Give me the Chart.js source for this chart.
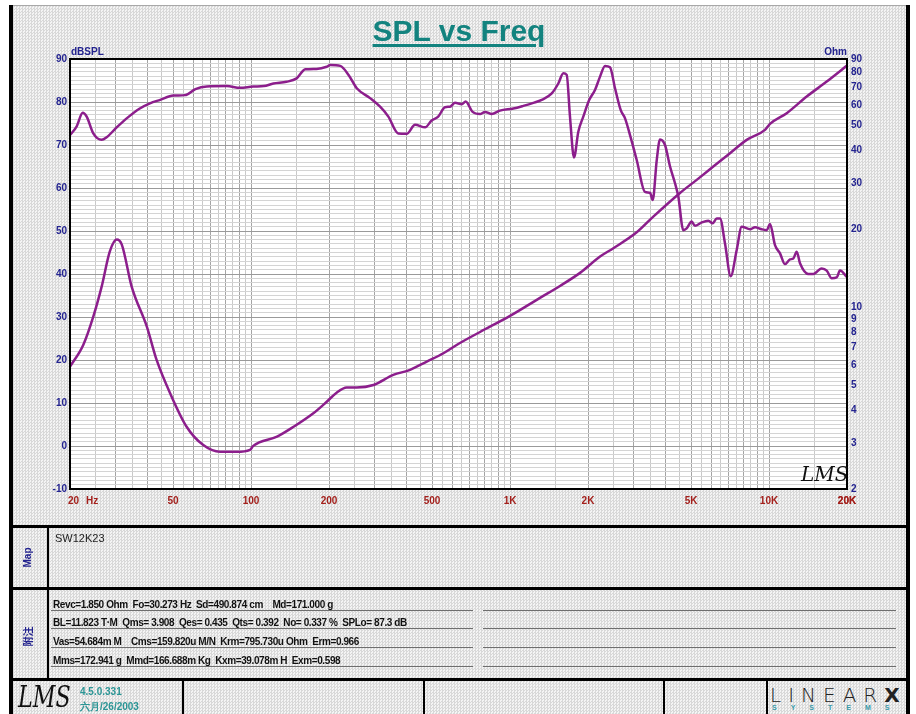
<!DOCTYPE html>
<html>
<head>
<meta charset="utf-8">
<script src="https://cdn.jsdelivr.net/npm/chart.js@4.4.0/dist/chart.umd.min.js"></script>
<style>
    body { margin: 0; width: 916px; height: 714px; overflow: hidden; background: #fff; position: relative;
           font-family: "Liberation Sans", Arial, sans-serif; }
    .abs { position: absolute; }
    .sheet { left: 9px; top: 5px; width: 901px; height: 709px; border-top: 1px solid #a8a8a8;
             background-color: #e8e8e8;
             background-image: repeating-conic-gradient(#d8d8d8 0 25%, #f4f4f4 0 50%);
             background-size: 3px 3px; }
    .bar { background: #000; }
    .title { left: 0; width: 918px; top: 14px; text-align: center; font: bold 30px "Liberation Sans", Arial, sans-serif;
             color: #13837f; text-decoration: underline; text-decoration-thickness: 3px; text-underline-offset: 3px; }
    .row { height: 11px; border-bottom: 1px solid #6e6e6e; font: bold 10px "Liberation Sans", Arial, sans-serif;
           line-height: 11px; color: #111; white-space: pre; padding-left: 2px; box-sizing: content-box;
           letter-spacing: -0.4px; }
    .side { color: #22228e; font: bold 10px "Liberation Sans", Arial, sans-serif; transform: rotate(-90deg);
            transform-origin: center; white-space: nowrap; }
    .teal { color: #2b9595; font: bold 10px "Liberation Sans", Arial, sans-serif; }
</style>
</head>
<body>
<div class="abs sheet"></div>
<canvas id="chart" class="abs" width="916" height="527" style="left:0;top:0"></canvas>
<div class="abs title">SPL vs Freq</div>

<!-- frame lines -->
<div class="abs bar" style="left:9px;top:5px;width:4px;height:709px"></div>
<div class="abs bar" style="left:906px;top:5px;width:4px;height:709px"></div>
<div class="abs bar" style="left:9px;top:525px;width:901px;height:3px"></div>
<div class="abs bar" style="left:9px;top:587px;width:901px;height:3px"></div>
<div class="abs bar" style="left:9px;top:678px;width:901px;height:3px"></div>
<div class="abs bar" style="left:47px;top:528px;width:2px;height:150px"></div>
<div class="abs bar" style="left:182px;top:681px;width:2px;height:33px"></div>
<div class="abs bar" style="left:423px;top:681px;width:2px;height:33px"></div>
<div class="abs bar" style="left:663px;top:681px;width:2px;height:33px"></div>
<div class="abs bar" style="left:766px;top:681px;width:2px;height:33px"></div>

<!-- Map section -->
<div class="abs side" style="left:13px;top:552px;width:28px;text-align:center">Map</div>
<div class="abs" style="left:55px;top:532px;font:11px 'Liberation Sans', Arial, sans-serif;color:#222">SW12K23</div>

<!-- notes section -->
<div class="abs side" style="left:13px;top:629px;width:28px;text-align:center;font-family:'Noto Sans CJK SC'">附注</div>
<div class="abs row" style="left:51px;top:599px;width:420px">Revc=1.850 Ohm  Fo=30.273 Hz  Sd=490.874 cm    Md=171.000 g</div>
<div class="abs row" style="left:51px;top:617px;width:420px">BL=11.823 T·M  Qms= 3.908  Qes= 0.435  Qts= 0.392  No= 0.337 %  SPLo= 87.3 dB</div>
<div class="abs row" style="left:51px;top:636px;width:420px">Vas=54.684m M    Cms=159.820u M/N  Krm=795.730u Ohm  Erm=0.966</div>
<div class="abs row" style="left:51px;top:655px;width:420px">Mms=172.941 g  Mmd=166.688m Kg  Kxm=39.078m H  Exm=0.598</div>
<div class="abs row" style="left:483px;top:599px;width:413px;padding:0"></div>
<div class="abs row" style="left:483px;top:617px;width:413px;padding:0"></div>
<div class="abs row" style="left:483px;top:636px;width:413px;padding:0"></div>
<div class="abs row" style="left:483px;top:655px;width:413px;padding:0"></div>

<!-- footer -->
<div class="abs" style="left:18px;top:679px;font:italic 30px 'DejaVu Serif', serif;color:#111;transform:scaleX(0.74);transform-origin:left top">LMS</div>
<div class="abs teal" style="left:80px;top:686px">4.5.0.331</div>
<div class="abs teal" style="left:80px;top:700px">六月/26/2003</div>
<div class="abs" style="left:770px;top:683px;font:200 20px 'DejaVu Sans', sans-serif;color:#222;letter-spacing:7px">LINEAR<span style="font-weight:900;letter-spacing:0">X</span></div>
<div class="abs" style="left:772px;top:704px;font:bold 7px 'Liberation Sans', Arial, sans-serif;color:#3a9aa8;letter-spacing:14px">SYSTEMS</div>

<script>
// SPL response (dB SPL, left axis)
const splFreq = [20, 21.2, 22.4, 23.2, 24.6, 26.5, 27.7, 30.3, 33.1, 37.2, 40.7, 44.6, 50.1, 55.6, 61, 67.5,
    80.6, 90.7, 102, 112, 122, 137, 150, 162, 179, 196, 202, 221, 238, 256, 288, 315, 339, 370, 399, 430,
    470, 498, 528, 561, 586, 613, 651, 674, 717, 766, 800, 850, 914, 1030, 1125, 1230, 1325, 1449, 1536,
    1606, 1655, 1704, 1766, 1835, 1918, 2023, 2128, 2226, 2327, 2432, 2543, 2676, 2780, 2906, 3084, 3320,
    3471, 3556, 3685, 3794, 3966, 4147, 4335, 4464, 4667, 4808, 5028, 5176, 5496, 5828, 6060, 6280, 6466,
    6761, 7112, 7502, 7844, 8446, 8830, 9372, 9795, 10087, 10544, 11024, 11526, 12050, 12410, 12790, 13170,
    14180, 14830, 15970, 16700, 17460, 18250, 18790, 20000];
const splDb = [72.3, 74.3, 77.5, 76.6, 72.7, 71.2, 71.8, 74.1, 76.2, 78.5, 79.7, 80.5, 81.5, 81.6, 83.0, 83.6,
    83.7, 83.3, 83.6, 83.7, 84.3, 84.7, 85.5, 87.6, 87.7, 88.2, 88.6, 88.4, 86.3, 83.2, 80.9, 78.9, 76.6, 72.7, 72.6, 74.7,
    74.1, 75.7, 76.6, 78.8, 78.9, 79.8, 79.5, 80.1, 77.7, 77.2, 77.7, 77.2, 78.0, 78.5, 79.1, 79.8, 80.5, 82.0, 84.3,
    86.7, 86.3, 76.6, 67.1, 73.1, 76.6, 80.5, 82.8, 85.9, 88.4, 88.1, 83.2, 78.1, 76.2, 72.3, 66.5, 59.1,
    58.9, 57.2, 66.5, 71.3, 70.0, 65.0, 61.1, 58.0, 50.2, 50.6, 52.2, 51.2, 52.0, 52.4, 51.8, 52.9, 52.9,
    47.1, 39.5, 45.6, 51.0, 50.4, 50.9, 50.4, 50.2, 51.6, 46.7, 44.8, 42.3, 43.4, 43.6, 45.2, 42.5,
    40.0, 40.0, 41.3, 40.8, 39.0, 39.2, 40.8, 39.3];

// Impedance (Ohm, right log axis)
const impFreq = [20, 22.5, 24.6, 26.5, 28.5, 30.3, 31.7, 34.6, 39.6, 43.2, 48.7, 56.4, 65.4, 75.9, 88, 99.1,
    102, 126, 146, 174, 196, 214, 234, 256, 297, 354, 411, 477, 553, 631, 766, 1000, 1305, 1559, 1869,
    2226, 2506, 3084, 3574, 4532, 5258, 6092, 7068, 8200, 9648, 10087, 11704, 13978, 16700, 20000];
const impOhm = [5.91, 7.16, 9.2, 12.0, 16.4, 18.2, 17.4, 12.0, 8.42, 6.27, 4.67, 3.47, 2.95, 2.78, 2.78, 2.83,
    2.93, 3.18, 3.47, 3.91, 4.33, 4.69, 4.91, 4.91, 5.02, 5.49, 5.74, 6.18, 6.65, 7.22, 8.03, 9.26, 10.86, 12.07, 13.58,
    15.66, 16.86, 19.4, 22.3, 27.5, 30.87, 34.72, 39.1, 43.98, 48.06, 50.68, 55.72, 64.56, 73.7, 84.9];

// Axis ticks
const freqTickValues = [20, 50, 100, 200, 500, 1000, 2000, 5000, 10000, 20000];
const freqTickText = ['', '50', '100', '200', '500', '1K', '2K', '5K', '10K', '20K'];
const freqGridMults = [1, 1.5, 2, 2.5, 3, 3.5, 4, 4.5, 5, 5.5, 6, 6.5, 7, 7.5, 8, 8.5, 9, 9.5];
const freqDecades = [10, 100, 1000, 10000];
const dbLabels = [-10, 0, 10, 20, 30, 40, 50, 60, 70, 80, 90];
const ohmTicks = [2, 3, 4, 5, 6, 7, 8, 9, 10, 20, 30, 40, 50, 60, 70, 80, 90];

const FONT = "'Liberation Sans', Arial, sans-serif";
const CURVE = '#8c1e8c';
const BLUE = '#23238f';
const RED = '#a3201c';

// vertical grid positions
const freqGrid = [];
freqDecades.forEach(d => freqGridMults.forEach(m => {
    const f = d * m;
    if (f >= 20 && f <= 20000) freqGrid.push(f);
}));
freqGrid.push(20000);

// horizontal grid positions, 1 dB apart
const dbGrid = [];
for (let v = -10; v <= 90; v++) dbGrid.push(v);

const sheetPlugin = {
    id: 'sheet',
    beforeDraw(chart) {
        const { ctx, chartArea: a } = chart;
        ctx.save();
        ctx.fillStyle = '#ffffff';
        ctx.fillRect(a.left, a.top, a.right - a.left, a.bottom - a.top);
        ctx.restore();
    },
    afterDraw(chart) {
        const { ctx, chartArea: a } = chart;
        ctx.save();
        // plot frame
        ctx.strokeStyle = '#000';
        ctx.lineWidth = 2;
        ctx.strokeRect(a.left, a.top, a.right - a.left, a.bottom - a.top);
        // axis titles
        ctx.fillStyle = BLUE;
        ctx.font = 'bold 10px ' + FONT;
        ctx.textBaseline = 'alphabetic';
        ctx.textAlign = 'left';
        ctx.fillText('dBSPL', a.left + 1, a.top - 4);
        ctx.textAlign = 'right';
        ctx.fillText('Ohm', a.right, a.top - 4);
        // first frequency label
        ctx.fillStyle = RED;
        ctx.textAlign = 'left';
        ctx.fillText('20', a.left - 2, a.bottom + 15);
        ctx.fillText('Hz', a.left + 16, a.bottom + 15);
        // signature
        ctx.fillStyle = '#111';
        ctx.font = 'italic 20px "DejaVu Serif", serif';
        ctx.fillText('LMS', a.right - 46, a.bottom - 8);
        ctx.restore();
    }
};

new Chart(document.getElementById('chart'), {
    type: 'line',
    data: {
        datasets: [{
            label: 'SPL',
            data: splFreq.map((f, i) => ({ x: f, y: splDb[i] })),
            yAxisID: 'y',
            borderColor: CURVE,
            borderWidth: 2.5,
            pointRadius: 0,
            cubicInterpolationMode: 'monotone'
        }, {
            label: 'Impedance',
            data: impFreq.map((f, i) => ({ x: f, y: impOhm[i] })),
            yAxisID: 'y2',
            borderColor: CURVE,
            borderWidth: 2.5,
            pointRadius: 0,
            cubicInterpolationMode: 'monotone'
        }]
    },
    options: {
        responsive: false,
        animation: false,
        devicePixelRatio: 1,
        layout: { padding: { top: 59, left: 0, right: 0, bottom: 0 } },
        plugins: { legend: { display: false }, tooltip: { enabled: false } },
        scales: {
            x: {
                type: 'logarithmic',
                min: 20,
                max: 20000,
                afterBuildTicks: s => { s.ticks = freqGrid.map(v => ({ value: v })); },
                afterFit: s => { s.height = 38; },
                border: { display: false },
                grid: {
                    drawTicks: false,
                    color: c => (c.tick && Number.isInteger(c.tick.value / Math.pow(10, Math.floor(Math.log10(c.tick.value) + 1e-9)))) ? '#a4a4a4' : '#c9c9c9',
                    lineWidth: 1
                },
                ticks: {
                    autoSkip: false,
                    maxRotation: 0,
                    padding: 6,
                    color: RED,
                    font: { family: FONT, size: 10, weight: 'bold' },
                    callback: v => {
                        const i = freqTickValues.indexOf(v);
                        return i >= 0 ? freqTickText[i] : '';
                    }
                }
            },
            y: {
                type: 'linear',
                position: 'left',
                min: -10,
                max: 90,
                afterBuildTicks: s => { s.ticks = dbGrid.map(v => ({ value: v })); },
                afterFit: s => { s.width = 70; },
                border: { display: false },
                grid: {
                    drawTicks: false,
                    color: c => (c.tick && dbLabels.includes(c.tick.value)) ? '#9a9a9a' : '#d4d4d4',
                    lineWidth: 1
                },
                ticks: {
                    autoSkip: false,
                    padding: 3,
                    color: BLUE,
                    font: { family: FONT, size: 10, weight: 'bold' },
                    callback: v => dbLabels.includes(v) ? String(v) : ''
                }
            },
            y2: {
                type: 'logarithmic',
                position: 'right',
                min: 2,
                max: 90,
                afterBuildTicks: s => { s.ticks = ohmTicks.map(v => ({ value: v })); },
                afterFit: s => { s.width = 69; },
                border: { display: false },
                grid: { display: false, drawTicks: false },
                ticks: {
                    autoSkip: false,
                    padding: 4,
                    color: BLUE,
                    font: { family: FONT, size: 10, weight: 'bold' },
                    callback: v => String(v)
                }
            }
        }
    },
    plugins: [sheetPlugin]
});
</script>
</body>
</html>
